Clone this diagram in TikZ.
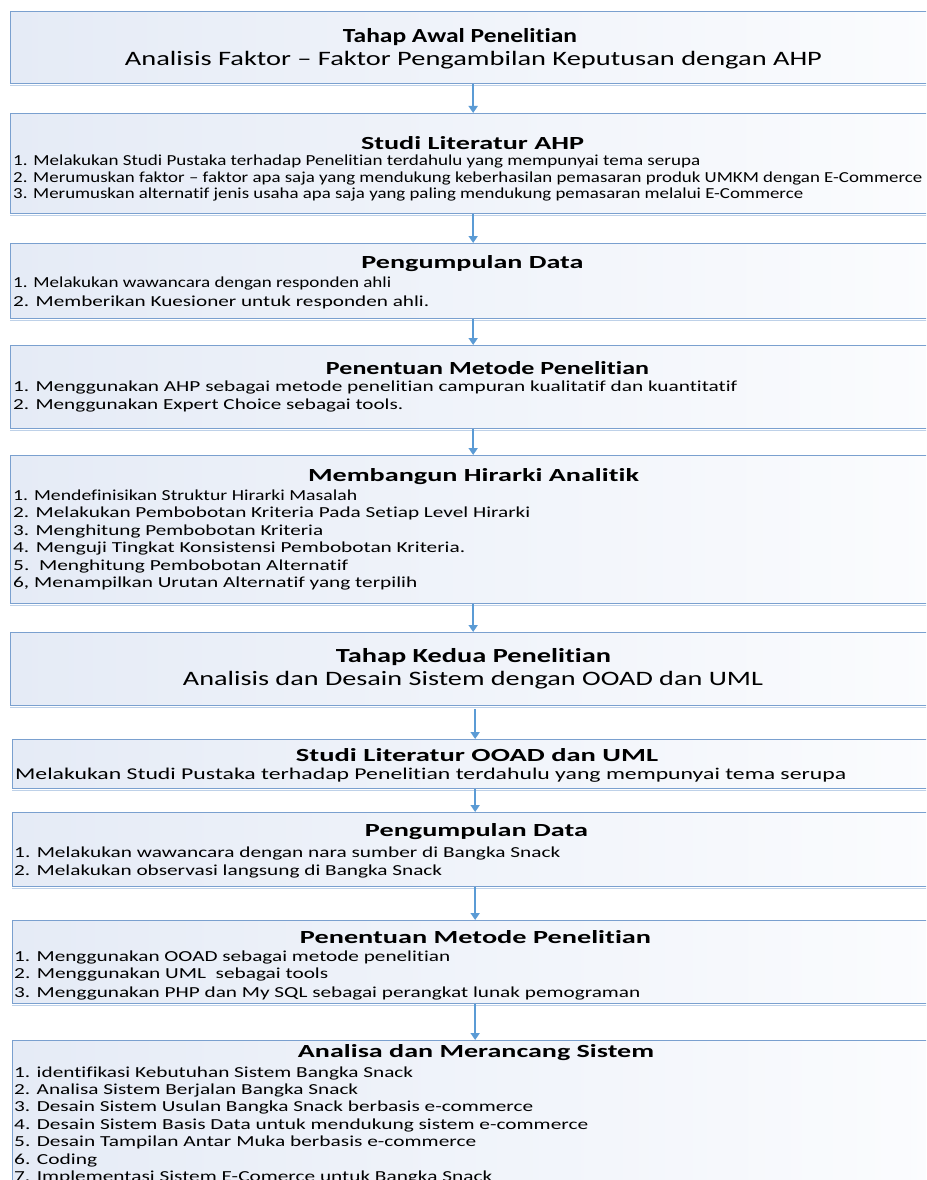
\documentclass[tikz,border=0pt]{standalone}
\usepackage{fontspec}
\usepackage{graphicx}
\setmainfont{Carlito}[Ligatures=NoCommon]
\usetikzlibrary{arrows.meta}
\definecolor{bordc}{RGB}{122,160,207}
\definecolor{shadc}{RGB}{190,209,232}
\definecolor{arrc}{RGB}{91,155,213}
\definecolor{fillL}{RGB}{229,235,246}
\definecolor{fillR}{RGB}{251,252,254}
\newcommand\fitw[2]{\resizebox{#1pt}{\height}{#2}}
\begin{document}
\begin{tikzpicture}[x=1pt,y=-1pt,
  box/.style={draw=bordc, line width=1.3pt, left color=fillL, right color=fillR,
    anchor=north west, inner sep=0, minimum width=925pt},
  arr/.style={draw=arrc, line width=2pt, -{Triangle[length=7pt,width=9pt]}},
  ttl/.style={font=\bfseries\fontsize{20}{23}\selectfont, inner sep=0, anchor=center},
  sub/.style={font=\fontsize{20.5}{24}\selectfont, inner sep=0, anchor=center},
  hd/.style={font=\bfseries\fontsize{18.5}{21}\selectfont, inner sep=0, anchor=center},
  it/.style={font=\fontsize{15.3}{18}\selectfont, inner sep=0, anchor=west},
  itb/.style={font=\fontsize{16.5}{19}\selectfont, inner sep=0, anchor=west},
]
\useasboundingbox (0,0) rectangle (926,1180);
\clip (0,0) rectangle (926,1180);
\fill[white] (0,0) rectangle (926,1180);

% boxes
\node[box, minimum height=72pt]  (b1)  at (10,11)   {};
\node[box, minimum height=100pt] (b2)  at (10,113)  {};
\node[box, minimum height=75pt]  (b3)  at (10,243)  {};
\node[box, minimum height=83pt]  (b4)  at (10,345)  {};
\node[box, minimum height=148pt] (b5)  at (10,455)  {};
\node[box, minimum height=73pt]  (b6)  at (10,632)  {};
\node[box, minimum height=49pt]  (b7)  at (12,739)  {};
\node[box, minimum height=74pt]  (b8)  at (12,812)  {};
\node[box, minimum height=83pt]  (b9)  at (12,920)  {};
\node[box, minimum height=200pt] (b10) at (12,1040) {};

\foreach \b in {b1,b2,b3,b4,b5,b6,b7,b8,b9}{
  \draw[shadc, line width=1.4pt] ([yshift=-1.1pt]\b.south west) -- ([yshift=-1.1pt]\b.south east);
}

% arrows
\draw[arr] (b1.south) -- (b2.north);
\draw[arr] (b2.south) -- (b3.north);
\draw[arr] (b3.south) -- (b4.north);
\draw[arr] (b4.south) -- (b5.north);
\draw[arr] (b5.south) -- (b6.north);
\draw[arr, shorten <=3pt] (b6.south -| b7.north) -- (b7.north);
\draw[arr] (b7.south) -- (b8.north);
\draw[arr] (b8.south) -- (b9.north);
\draw[arr] (b9.south) -- (b10.north);

% box 1
\node[ttl] (t1) at (460,37) {\fitw{234}{Tahap Awal Penelitian}};
\node[sub] (s1) at (473.5,60) {\fitw{697}{Analisis Faktor – Faktor Pengambilan Keputusan dengan AHP}};

% box 2
\node[hd] (h2) at (472.5,143) {\fitw{223}{Studi Literatur AHP}};
\node[it] (i2a) at (13,162) {\fitw{687}{1. Melakukan Studi Pustaka terhadap Penelitian terdahulu yang mempunyai tema serupa}};
\node[it] (i2b) at (13,179) {\fitw{909}{2. Merumuskan faktor – faktor apa saja yang mendukung keberhasilan pemasaran produk UMKM dengan E-Commerce}};
\node[it] (i2c) at (13,195) {\fitw{790}{3. Merumuskan alternatif jenis usaha apa saja yang paling mendukung pemasaran melalui E-Commerce}};

% box 3
\node[hd] (h3) at (472.5,264) {\fitw{222}{Pengumpulan Data}};
\node[it] (i3a) at (13,284) {\fitw{378}{1. Melakukan wawancara dengan responden ahli}};
\node[it] (i3b) at (13,302) {\fitw{416}{2. Memberikan Kuesioner untuk responden ahli.}};

% box 4
\node[hd] (h4) at (487.5,368) {\fitw{323}{Penentuan Metode Penelitian}};
\node[it] (i4a) at (13,388) {\fitw{724}{1. Menggunakan AHP sebagai metode penelitian campuran kualitatif dan kuantitatif}};
\node[it] (i4b) at (13,406) {\fitw{390}{2. Menggunakan Expert Choice sebagai tools.}};

% box 5
\node[hd] (h5) at (473.5,477) {\fitw{331}{Membangun Hirarki Analitik}};
\node[it] (i5a) at (13,495) {\fitw{344}{1. Mendefinisikan Struktur Hirarki Masalah}};
\node[it] (i5b) at (13,513) {\fitw{517}{2. Melakukan Pembobotan Kriteria Pada Setiap Level Hirarki}};
\node[it] (i5c) at (13,531) {\fitw{310}{3. Menghitung Pembobotan Kriteria}};
\node[it] (i5d) at (13,548) {\fitw{452}{4. Menguji Tingkat Konsistensi Pembobotan Kriteria.}};
\node[it] (i5e) at (13,566) {\fitw{335}{5.\ \ Menghitung Pembobotan Alternatif}};
\node[it] (i5f) at (13,583) {\fitw{404}{6, Menampilkan Urutan Alternatif yang terpilih}};

% box 6
\node[ttl] (t6) at (473.5,657) {\fitw{275}{Tahap Kedua Penelitian}};
\node[sub] (s6) at (473,680) {\fitw{580}{Analisis dan Desain Sistem dengan OOAD dan UML}};

% box 7
\node[hd] (h7) at (477,755) {\fitw{362}{Studi Literatur OOAD dan UML}};
\node[itb] (i7a) at (15,775) {\fitw{831}{Melakukan Studi Pustaka terhadap Penelitian terdahulu yang mempunyai tema serupa}};

% box 8
\node[hd] (h8) at (476.5,832) {\fitw{223}{Pengumpulan Data}};
\node[it] (i8a) at (14,853) {\fitw{546}{1. Melakukan wawancara dengan nara sumber di Bangka Snack}};
\node[it] (i8b) at (14,871) {\fitw{428}{2. Melakukan observasi langsung di Bangka Snack}};

% box 9
\node[hd] (h9) at (475.5,937) {\fitw{351}{Penentuan Metode Penelitian}};
\node[it] (i9a) at (14,957) {\fitw{436}{1. Menggunakan OOAD sebagai metode penelitian}};
\node[it] (i9b) at (14,974) {\fitw{314}{2. Menggunakan UML\ \ sebagai tools}};
\node[it] (i9c) at (14,993) {\fitw{626}{3. Menggunakan PHP dan My SQL sebagai perangkat lunak pemograman}};

% box 10
\node[hd] (h10) at (476,1053) {\fitw{356}{Analisa dan Merancang Sistem}};
\node[it] (i10a) at (14,1073) {\fitw{399}{1. identifikasi Kebutuhan Sistem Bangka Snack}};
\node[it] (i10b) at (14,1090) {\fitw{344}{2. Analisa Sistem Berjalan Bangka Snack}};
\node[it] (i10c) at (14,1107) {\fitw{519}{3. Desain Sistem Usulan Bangka Snack berbasis e-commerce}};
\node[it] (i10d) at (14,1125) {\fitw{574}{4. Desain Sistem Basis Data untuk mendukung sistem e-commerce}};
\node[it] (i10e) at (14,1142) {\fitw{462}{5. Desain Tampilan Antar Muka berbasis e-commerce}};
\node[it] (i10f) at (14,1160) {\fitw{83}{6. Coding}};
\node[it] (i10g) at (14,1177) {\fitw{478}{7. Implementasi Sistem E-Comerce untuk Bangka Snack}};
\end{tikzpicture}
\end{document}
